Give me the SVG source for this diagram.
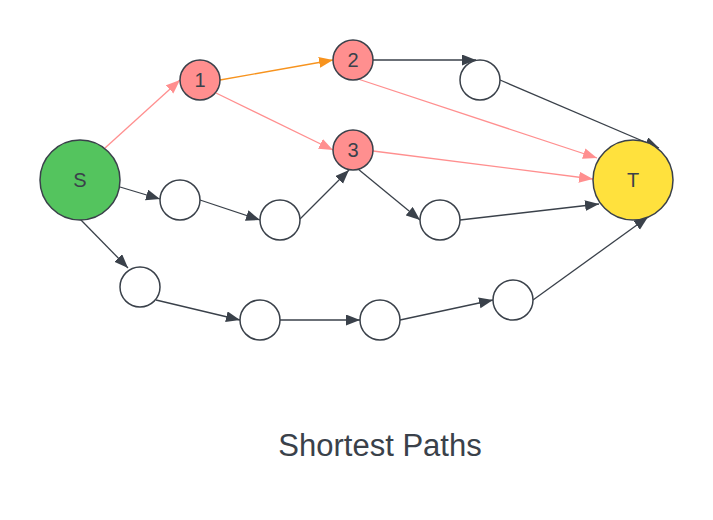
<svg xmlns="http://www.w3.org/2000/svg" width="713" height="520" viewBox="0 0 713 520">
<style>
.n{stroke:#3a414a;stroke-width:1.5}
.w{fill:#ffffff}
.r{fill:#ff8f8f}
.lbl{font-family:"Liberation Sans",Arial,sans-serif;font-size:20px;fill:#3a414a;text-anchor:middle;dominant-baseline:central}
.e{fill:none;stroke-width:1.3}
.k{stroke:#3a414a;marker-end:url(#ak)}
.p{stroke:#ff8f8f;marker-end:url(#ap)}
.o{stroke:#f7931e;marker-end:url(#ao)}
</style>
<defs>
<marker id="ak" markerUnits="userSpaceOnUse" markerWidth="15" markerHeight="12" refX="14" refY="5.5" orient="auto" viewBox="0 0 15 12"><path d="M0,0 L14,5.5 L0,11 z" fill="#3a414a"/></marker>
<marker id="ap" markerUnits="userSpaceOnUse" markerWidth="15" markerHeight="12" refX="14" refY="5.5" orient="auto" viewBox="0 0 15 12"><path d="M0,0 L14,5.5 L0,11 z" fill="#ff8f8f"/></marker>
<marker id="ao" markerUnits="userSpaceOnUse" markerWidth="15" markerHeight="12" refX="14" refY="5.5" orient="auto" viewBox="0 0 15 12"><path d="M0,0 L14,5.5 L0,11 z" fill="#f7931e"/></marker>
</defs>
<rect width="713" height="520" fill="#ffffff"/>
<g id="connectors">
<line class="e p" x1="105" y1="148" x2="180" y2="80"/>
<line class="e o" x1="220" y1="80" x2="333" y2="60"/>
<line class="e p" x1="216" y1="93" x2="333" y2="150"/>
<line class="e k" x1="373" y1="60" x2="476" y2="60"/>
<line class="e p" x1="358" y1="79" x2="597" y2="158"/>
<line class="e p" x1="373" y1="151" x2="593" y2="179"/>
<line class="e k" x1="500" y1="80" x2="659" y2="148"/>
<line class="e k" x1="358" y1="169" x2="420" y2="220"/>
<line class="e k" x1="460" y1="220" x2="599" y2="204"/>
<line class="e k" x1="120" y1="187" x2="160" y2="199"/>
<line class="e k" x1="200" y1="200" x2="260" y2="220"/>
<line class="e k" x1="300" y1="219" x2="349" y2="170"/>
<line class="e k" x1="80" y1="219" x2="128" y2="268"/>
<line class="e k" x1="156" y1="300" x2="240" y2="320"/>
<line class="e k" x1="280" y1="320" x2="360" y2="320"/>
<line class="e k" x1="400" y1="320" x2="493" y2="300"/>
<line class="e k" x1="533" y1="300" x2="648" y2="217"/>
</g>
<g id="node-S"><circle class="n" cx="80" cy="180" r="40" fill="#54c45e"/><text class="lbl" x="80" y="180">S</text></g>
<g id="node-1"><circle class="n r" cx="200" cy="80" r="20"/><text class="lbl" x="200" y="80">1</text></g>
<g id="node-2"><circle class="n r" cx="353" cy="60" r="20"/><text class="lbl" x="353" y="60">2</text></g>
<g id="node-3"><circle class="n r" cx="353" cy="150" r="20"/><text class="lbl" x="353" y="150">3</text></g>
<g id="node-T"><circle class="n" cx="633" cy="180" r="40" fill="#ffe13d"/><text class="lbl" x="633" y="180">T</text></g>
<g id="node-a"><circle class="n w" cx="480" cy="80" r="20"/></g>
<g id="node-b"><circle class="n w" cx="440" cy="220" r="20"/></g>
<g id="node-c"><circle class="n w" cx="180" cy="200" r="20"/></g>
<g id="node-d"><circle class="n w" cx="280" cy="220" r="20"/></g>
<g id="node-e"><circle class="n w" cx="140" cy="287" r="20"/></g>
<g id="node-f"><circle class="n w" cx="260" cy="320" r="20"/></g>
<g id="node-g"><circle class="n w" cx="380" cy="320" r="20"/></g>
<g id="node-h"><circle class="n w" cx="513" cy="300" r="20"/></g>
<g id="title"><text x="380" y="456" font-family="Liberation Sans,Arial,sans-serif" font-size="31" fill="#3a414a" text-anchor="middle">Shortest Paths</text></g>
</svg>
